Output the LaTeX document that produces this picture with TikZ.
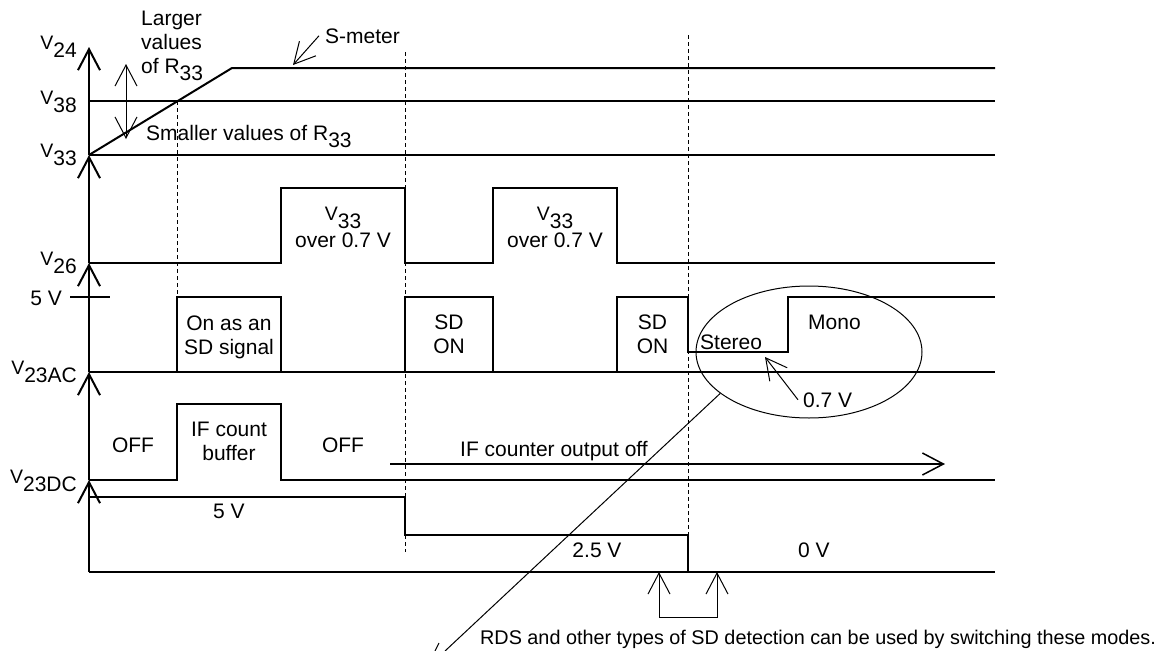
\documentclass[tikz,border=0pt]{standalone}
\usepackage{fontspec}
\setmainfont{Liberation Sans}
\usetikzlibrary{arrows.meta,shapes.geometric}
\newcommand{\vsig}[1]{\raisebox{7.5pt}{\fontsize{19.5}{19.5}\selectfont V}#1}
\newcommand{\rsub}[1]{R\raisebox{-7pt}{#1}}

\begin{document}
\begin{tikzpicture}[x=1pt, y=-1pt, line join=miter,
  every node/.style={font=\fontsize{21}{24}\selectfont, inner sep=0pt},
  trace/.style={line width=2pt},
  guide/.style={line width=0.8pt, dash pattern=on 4pt off 3pt},
  memo/.style={line width=1pt},
  barb/.style={-{Straight Barb[length=21pt,width=22pt]}},
  twobarb/.style={{Straight Barb[length=21pt,width=22pt]}-{Straight Barb[length=21pt,width=22pt]}}]
  \useasboundingbox (0,0) rectangle (1171,651);

  % stacked axes
  \foreach \ya/\yb in {572/480,480/372,372/263,263/155,155/47}
    \draw[trace, barb] (89,\ya) -- (89,\yb);
  \node[anchor=base east] (v24) at (77,57) {\vsig{24}};
  \node[anchor=base east] (v38) at (77,112) {\vsig{38}};
  \node[anchor=base east] (v33) at (77,165) {\vsig{33}};
  \node[anchor=base east] (v26) at (77,273) {\vsig{26}};
  \node[anchor=base east] (fivev) at (62,305) {5 V};
  \node[anchor=base east] (v23ac) at (77,382) {\vsig{23AC}};
  \node[anchor=base east] (v23dc) at (77,491) {\vsig{23DC}};

  % S-meter, V38, V33
  \draw[trace] (89,155) -- (232,68) -- (995,68);
  \draw[trace] (89,101) -- (995,101);
  \draw[trace] (89,155) -- (995,155);
  % V26
  \draw[trace] (89,263) -| (281,188) -| (405,263) -| (493,188) -| (617,263) -- (995,263);
  \draw[trace] (70,297) -- (110,297);
  % V23AC
  \draw[trace] (89,372) -- (995,372);
  \draw[trace] (89,372) -| (177,297) -| (281,372) -| (405,297) -| (493,372) -| (617,297)
    -| (688,352) -| (788,297) -- (995,297);
  % V23DC
  \draw[trace] (89,480) -| (177,404) -| (281,480) -- (995,480);
  \draw[trace] (89,497) -| (405,535) -| (688,572);
  \draw[trace] (89,572) -- (995,572);

  % timing guides
  \draw[guide] (177,101) -- (177,297);
  \draw[guide] (405,52) -- (405,552);
  \draw[guide] (688,35) -- (688,535);

  % top notes
  \node[anchor=north west, align=left] (larger) at (141,11) {Larger\\values\\of \rsub{33}};
  \coordinate (rtop) at (126,64);
  \coordinate (rbot) at (126,139);
  \draw[memo, twobarb] (rtop) -- (rbot);
  \node[anchor=base west] (smaller) at (146,140) {Smaller values of \rsub{33}};
  \node[anchor=base west] (smeter) at (325,43) {S-meter};
  \coordinate (smtip) at (293,65);
  \draw[memo, barb] ([xshift=-6pt]smeter.west) -- (smtip);

  % pulse texts
  \node[align=center] (vbox1) at (343,227.5) {\vsig{33}\\[-5pt]over 0.7 V};
  \node[align=center] (vbox2) at (555,227.5) {\vsig{33}\\[-5pt]over 0.7 V};
  \node[align=center] (sdsig) at (229,337) {On as an\\SD signal};
  \node[align=center] (sdon1) at (449,334.5) {SD\\ON};
  \node[align=center] (sdon2) at (652.5,334.5) {SD\\ON};
  \node[anchor=base west] (stereo) at (700,349) {Stereo};
  \node[anchor=base west] (mono) at (808,329) {Mono};
  \node[anchor=base west] (volt) at (803,407) {0.7 V};
  \coordinate (steptip) at (765,357);
  \draw[memo, barb] ([xshift=-5pt]volt.west) -- (steptip);
  \node[draw, ellipse, line width=1pt, minimum width=226pt, minimum height=132pt] (mode) at (809,352) {};

  \node (off1) at (133,445) {OFF};
  \node[align=center] (ifbuf) at (229,441.5) {IF count\\buffer};
  \node (off2) at (343,445) {OFF};
  \node[anchor=base west] (ifoff) at (460,456) {IF counter output off};
  \coordinate (ifs) at (390,464);
  \coordinate (ife) at (945,464);
  \draw[line width=1.5pt, barb] (ifs) -- (ife);

  \node (dcfive) at (229,511) {5 V};
  \node (dchalf) at (597,550) {2.5 V};
  \node (dczero) at (814,550) {0 V};

  % bottom notes
  \coordinate (tail) at (445,651);
  \draw[memo] (mode.205) -- (tail);
  \draw[memo] (435,651) -- (439,643);
  \coordinate (swa) at (659,572);
  \coordinate (swb) at (717,572);
  \draw[memo, twobarb] (swa) -- ++(0,45) -| (swb);
  \node[anchor=base west, font=\fontsize{19.8}{24}\selectfont] (rds) at (480,644) {RDS and other types of SD detection can be used by switching these modes.};
\end{tikzpicture}
\end{document}
